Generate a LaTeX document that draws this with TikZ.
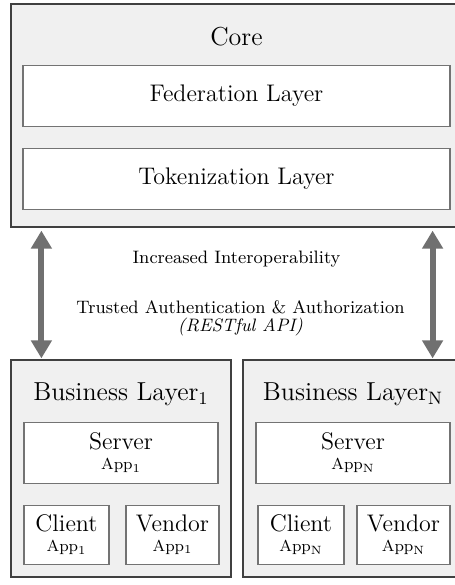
\documentclass[tikz,border=0pt]{standalone}
\usepackage{amsmath}
\usetikzlibrary{positioning,arrows.meta}

\tikzset{
  outer/.style={draw=black!75, fill=black!6, line width=0.6pt, inner sep=0pt},
  layer/.style={draw=black!55, fill=white, line width=0.6pt, inner sep=0pt, align=center},
  big/.style={font=\fontsize{13}{15}\selectfont},
  mid/.style={font=\fontsize{12}{13.5}\selectfont},
  note/.style={font=\fontsize{9}{10.5}\selectfont, align=center},
  biarrow/.style={{Triangle[length=9pt,width=10pt]}-{Triangle[length=9pt,width=10pt]},
    line width=3pt, draw=black!56, shorten <=0pt, shorten >=0pt},
}
\newcommand{\appline}[1]{{\fontsize{8}{9}\selectfont App$_{#1}$}}

\begin{document}
\begin{tikzpicture}[on grid]
    \useasboundingbox (0,0) rectangle (227.5pt,-292.5pt);

    % core
    \node[outer, minimum width=225.5pt, minimum height=111.5pt] (core) at (118.25pt,-57.75pt) {};
    \node[big] (corelabel) [below=16.5pt of core.north, anchor=center] {Core};
    \node[layer, mid, minimum width=213.5pt, minimum height=30.5pt] (fed) [below=46.25pt of core.north, anchor=center] {Federation Layer};
    \node[layer, mid, minimum width=213.5pt, minimum height=30.5pt] (tok) [below=41.5pt of fed] {Tokenization Layer};

    % business layers
    \node[outer, minimum width=110pt, minimum height=108.5pt] (bus1) at (60.5pt,-234.25pt) {};
    \node[outer, minimum width=110pt, minimum height=108.5pt] (busN) [right=116pt of bus1] {};

    \node[big] (bus1label) [below=17.5pt of bus1.north, anchor=center] {Business Layer$_1$};
    \node[big] (busNlabel) [below=17.5pt of busN.north, anchor=center] {Business Layer$_\mathrm{N}$};

    \node[layer, mid, minimum width=97pt, minimum height=30.5pt] (server1) [below=46.75pt of bus1.north, anchor=center] {\raisebox{-1pt}{Server}\\[-2.5pt]\appline{1}};
    \node[layer, mid, minimum width=42.5pt, minimum height=29.5pt] (client1) [below=41pt of server1, xshift=-27.25pt] {\raisebox{-1pt}{Client}\\[-2.5pt]\appline{1}};
    \node[layer, mid, minimum width=46.5pt, minimum height=29.5pt] (vendor1) [below=41pt of server1, xshift=25.75pt] {\raisebox{-1pt}{Vendor}\\[-2.5pt]\appline{1}};

    \node[layer, mid, minimum width=97pt, minimum height=30.5pt] (serverN) [below=46.75pt of busN.north, anchor=center] {\raisebox{-1pt}{Server}\\[-2.5pt]\appline{\mathrm{N}}};
    \node[layer, mid, minimum width=43pt, minimum height=29.5pt] (clientN) [below=41pt of serverN, xshift=-26pt] {\raisebox{-1pt}{Client}\\[-2.5pt]\appline{\mathrm{N}}};
    \node[layer, mid, minimum width=46.5pt, minimum height=29.5pt] (vendorN) [below=41pt of serverN, xshift=25.25pt] {\raisebox{-1pt}{Vendor}\\[-2.5pt]\appline{\mathrm{N}}};

    % links
    \node[note] (interop) [below=15.5pt of core.south, anchor=center] {Increased Interoperability};
    \node[note] (auth) [below=29.75pt of interop, xshift=2pt] {Trusted Authentication \& Authorization\\[-1.5pt]\textit{(RESTful API)}};

    \draw[biarrow] ([xshift=15.5pt,yshift=-1.5pt]core.south west) -- ([xshift=15.5pt,yshift=0.5pt]bus1.north west);
    \draw[biarrow] ([xshift=-15pt,yshift=-1.5pt]core.south east) -- ([xshift=-15.5pt,yshift=0.5pt]busN.north east);
\end{tikzpicture}
\end{document}
